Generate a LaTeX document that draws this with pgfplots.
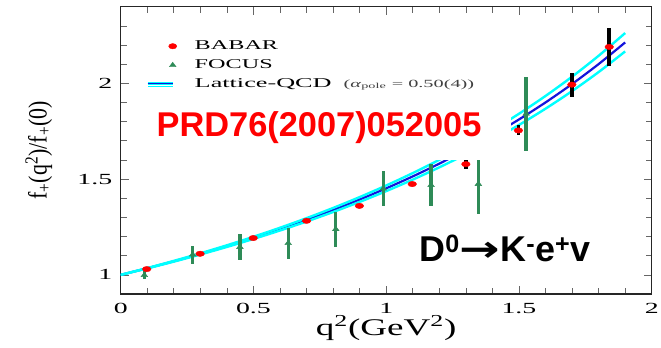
\documentclass[border=0pt]{standalone}
\usepackage{pgfplots}
\pgfplotsset{compat=1.18}
\usepackage{fontspec}
\setmainfont{Liberation Serif}
\newfontfamily\arial{Liberation Sans}
\newfontfamily\dejavu{DejaVu Sans}
\usepackage{graphicx}
\definecolor{bbred}{RGB}{255,0,0}
\definecolor{fgreen}{RGB}{46,139,87}
\definecolor{lqcyan}{RGB}{0,255,255}
\definecolor{lqblue}{RGB}{20,20,220}
\newcommand\sx[1]{\scalebox{1.8}[1]{#1}}
\newcommand\legbox{\pgfpathrectangle{\pgfpoint{-3bp}{-4bp}}{\pgfpoint{47bp}{8bp}}\pgfusepath{discard}}
\newcommand\legfont{\fontsize{13.5}{14}\selectfont}
\pgfplotsset{
 legmark/.style={legend image code/.code={\legbox\draw[##1] plot coordinates {(22bp,0bp)};}},
 leglqcd/.style={legend image code/.code={\legbox
   \draw[lqcyan,line width=5bp] (-3bp,0bp) -- (22bp,0bp);
   \draw[white,line width=0.9bp] (-3bp,-1.2bp) -- (22bp,-1.2bp);
   \draw[lqblue,line width=1.4bp] (-3bp,0.7bp) -- (22bp,0.7bp);}},
}
\pgfplotstableread{
q fq
0.0 1.00000
0.1 1.03453
0.2 1.07095
0.3 1.10942
0.4 1.15008
0.5 1.19312
0.6 1.23874
0.7 1.28715
0.8 1.33859
0.9 1.39334
1.0 1.45170
1.1 1.51401
1.2 1.58066
1.3 1.65207
1.4 1.72873
1.5 1.81121
1.6 1.90014
1.7 1.99624
1.8 2.10035
1.9 2.21347
}\lqcdc
\pgfplotstableread{
q fq
0.0 1.00000
0.1 1.03359
0.2 1.06899
0.3 1.10633
0.4 1.14577
0.5 1.18748
0.6 1.23163
0.7 1.27843
0.8 1.32812
0.9 1.38095
1.0 1.43719
1.1 1.49717
1.2 1.56125
1.3 1.62983
1.4 1.70337
1.5 1.78238
1.6 1.86748
1.7 1.95934
1.8 2.05873
1.9 2.16657
}\lqcdlo
\pgfplotstableread{
q fq
0.0 1.00000
0.1 1.03547
0.2 1.07292
0.3 1.11251
0.4 1.15441
0.5 1.19881
0.6 1.24592
0.7 1.29597
0.8 1.34922
0.9 1.40596
1.0 1.46651
1.1 1.53124
1.2 1.60056
1.3 1.67493
1.4 1.75487
1.5 1.84098
1.6 1.93395
1.7 2.03455
1.8 2.14371
1.9 2.26245
}\lqcdhi
\pgfplotstableread{
q fq err
0.089 0.998 0.020
0.271 1.105 0.048
0.449 1.145 0.070
0.631 1.165 0.080
0.810 1.238 0.092
0.989 1.450 0.090
1.169 1.468 0.110
1.347 1.474 0.155
1.527 1.841 0.192
}\focus
\pgfplotstableread{
q fq err
0.098 1.030 0.006
0.299 1.110 0.006
0.499 1.192 0.007
0.700 1.282 0.008
0.899 1.360 0.010
1.098 1.474 0.011
1.300 1.578 0.025
1.498 1.754 0.026
1.699 1.993 0.062
1.840 2.190 0.098
}\babar
\begin{document}
\begin{tikzpicture}[x=1bp,y=1bp]
\path[use as bounding box] (0,0) rectangle (661,347);
\begin{axis}[
  at={(120.7bp,53bp)}, anchor=south west,
  width=531bp, height=287.3bp, scale only axis,
  xmin=0, xmax=2, ymin=0.9, ymax=2.4,
  xtick={0,0.5,1,1.5,2},
  xticklabels={\sx{0},\sx{0.5},\sx{1},\sx{1.5},\sx{2}},
  ytick={1,1.5,2},
  yticklabels={\sx{1},\sx{1.5},\sx{2}},
  minor xtick={0.1,0.2,0.3,0.4,0.6,0.7,0.8,0.9,1.1,1.2,1.3,1.4,1.6,1.7,1.8,1.9},
  minor ytick={1.1,1.2,1.3,1.4,1.6,1.7,1.8,1.9,2.1,2.2,2.3},
  tick align=inside,
  major tick length=8bp, minor tick length=6bp,
  tick style={black!60, line width=0.7bp},
  axis line style={black!85, line width=1.1bp},
  tick label style={font=\fontsize{15.5}{16}\selectfont},
  xticklabel style={yshift=-6bp},
  yticklabel style={xshift=-5bp},
  xlabel={\scalebox{1.55}[1]{q\textsuperscript{2}(GeV\textsuperscript{2})}},
  xlabel style={at={(axis description cs:0.5,-0.118)}, anchor=center, font=\fontsize{24}{24}\selectfont},
  ylabel={\scalebox{1}[1.2]{f\textsubscript{+}(q\textsuperscript{2})/f\textsubscript{+}(0)}},
  ylabel style={at={(axis description cs:-0.154,0.50)}, anchor=center, font=\fontsize{22}{22}\selectfont},
  legend style={draw=none, fill=none, at={(0.0458,0.884)}, anchor=north west,
    inner sep=0pt, row sep=7bp, column sep=0bp,
    nodes={inner sep=0pt, text height=9bp, text depth=3bp}},
  legend cell align=left,
]
% lattice band
\addplot[lqblue, line width=2.2bp, smooth, forget plot] table[x=q,y=fq] {\lqcdc};
\addplot[lqcyan, line width=2.4bp, smooth, forget plot] table[x=q,y=fq] {\lqcdlo};
\addplot[lqcyan, line width=2.4bp, smooth, forget plot] table[x=q,y=fq] {\lqcdhi};
% FOCUS
\addplot[fgreen, only marks, mark=triangle*, mark size=3bp, mark options={xscale=1.3}, forget plot,
  error bars/.cd, y dir=both, y explicit,
  error bar style={line width=3.3bp, fgreen}, error mark=none]
  table[x=q,y=fq,y error=err] {\focus};
% BABAR
\addplot[black, only marks, mark=none, forget plot,
  error bars/.cd, y dir=both, y explicit,
  error bar style={line width=3.5bp, black}, error mark=none]
  table[x=q,y=fq,y error=err] {\babar};
\addplot[only marks, mark=*, mark size=2.7bp, color=bbred, forget plot, mark options={xscale=1.6, fill=bbred, draw=bbred}]
  table[x=q,y=fq] {\babar};
% legend
\addlegendimage{legmark, only marks, mark=*, mark size=2.7bp, color=bbred, mark options={xscale=1.5, fill=bbred}}
\addlegendentry{\legfont\sx{BABAR}}
\addlegendimage{legmark, only marks, mark=triangle*, mark size=3bp, color=fgreen, mark options={xscale=1.3}}
\addlegendentry{\legfont\sx{FOCUS}}
\addlegendimage{leglqcd}
\addlegendentry{\legfont\scalebox{1.95}[1]{Lattice-QCD}\hspace{12bp}\scalebox{1.85}[1]{\fontsize{11}{11}\selectfont\color{black!75}(\textit{α}\textsubscript{pole} = 0.50(4))}}
% white label box and texts
\fill[white] (axis cs:0.12,1.60) rectangle (axis cs:1.47,1.93);
\node[anchor=center, text=red, font=\arial\bfseries\fontsize{34.5}{35}\selectfont] at (axis cs:0.747,1.77) {PRD76(2007)052005};
\node[anchor=center, text=black, font=\arial\bfseries\fontsize{36}{36}\selectfont] at (axis cs:1.447,1.14)
  {D\textsuperscript{0}{\dejavu\bfseries\scalebox{1.35}[1]{→}}K\textsuperscript{-}e\textsuperscript{+}v};
\end{axis}
\end{tikzpicture}
\end{document}
